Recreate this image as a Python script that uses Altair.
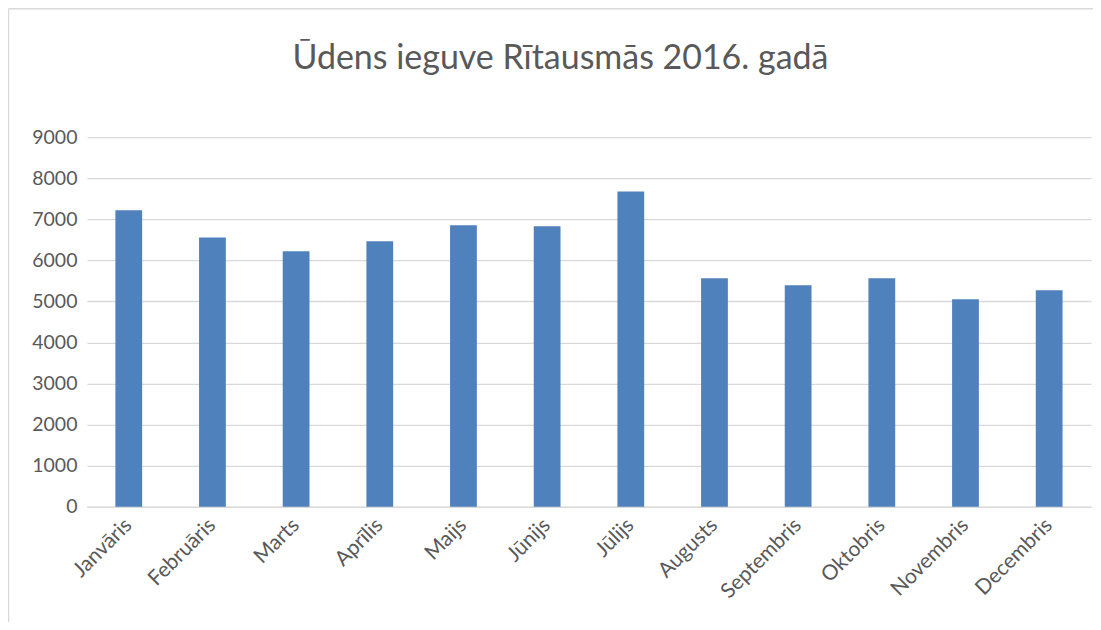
import altair as alt
import pandas as pd

months = ["Janvāris", "Februāris", "Marts", "Aprīlis", "Maijs", "Jūnijs",
          "Jūlijs", "Augusts", "Septembris", "Oktobris", "Novembris", "Decembris"]
values = [7220, 6560, 6220, 6465, 6855, 6830, 7680, 5565, 5395, 5565, 5055, 5270]
y_ticks = [0, 1000, 2000, 3000, 4000, 5000, 6000, 7000, 8000, 9000]

df = pd.DataFrame({"Mēnesis": months, "Ieguve": values})

FONT = "Lato"
TEXT = "#595959"
GRID = "#d9d9d9"

bars = alt.Chart(df).mark_bar(color="#4f81bd").encode(
    x=alt.X("Mēnesis:N", sort=months,
            scale=alt.Scale(paddingInner=0.68, paddingOuter=0.34),
            axis=alt.Axis(title=None, labelAngle=-45, labelAlign="right",
                          labelBaseline="middle", labelPadding=15,
                          ticks=False, domainColor=GRID, domainWidth=1.5,
                          labelFont=FONT, labelFontSize=21, labelColor=TEXT,
                          grid=False)),
    y=alt.Y("Ieguve:Q", scale=alt.Scale(domain=[0, 9000], nice=False),
            axis=alt.Axis(title=None, values=y_ticks, ticks=False, domain=False,
                          format="d",
                          labelFont=FONT, labelFontSize=19.5, labelColor=TEXT,
                          labelPadding=10, gridColor=GRID, gridWidth=1.3)),
)

frame_df = pd.DataFrame({"k": [0]})
left_edge = alt.Chart(frame_df).mark_rule(color=GRID, strokeWidth=1.5).encode(
    x=alt.value(-78.5), y=alt.value(-128.5), y2=alt.value(700))
top_edge = alt.Chart(frame_df).mark_rule(color=GRID, strokeWidth=1.5).encode(
    y=alt.value(-128.5), x=alt.value(-78.5), x2=alt.value(1200))

chart = alt.layer(bars, left_edge, top_edge).properties(
    width=1005, height=370,
    background="white",
    title=alt.TitleParams("Ūdens ieguve Rītausmās 2016. gadā", font=FONT,
                          fontSize=34, fontWeight="normal", color=TEXT,
                          anchor="middle", baseline="alphabetic",
                          dx=-28.5, offset=0, dy=95),
    autosize=alt.AutoSizeParams(type="none"),
    padding={"left": 79, "top": 129, "right": 2, "bottom": 115},
).configure_view(stroke=None)

chart.save("out.html", embed_options={"renderer": "svg", "actions": False})
